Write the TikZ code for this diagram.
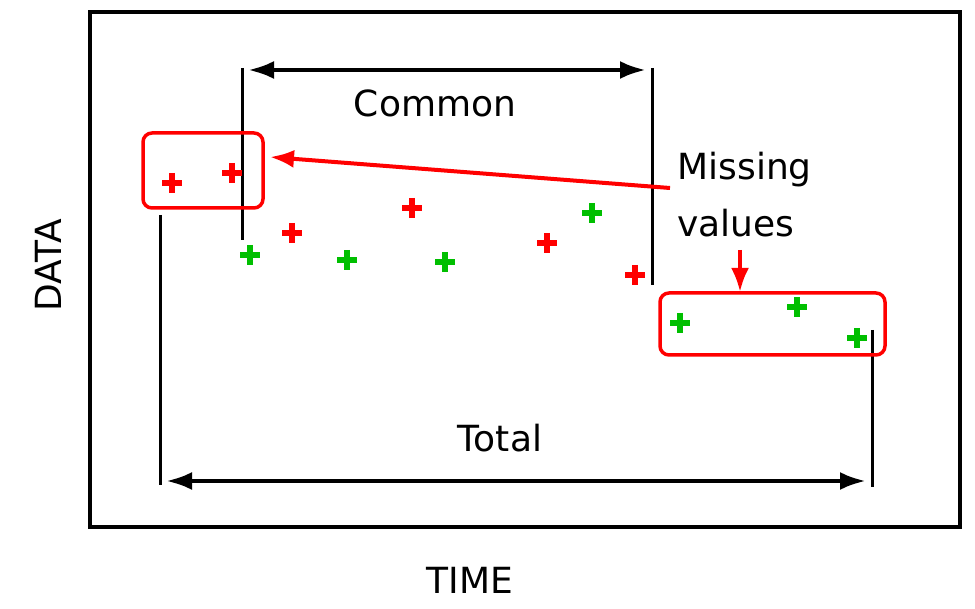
\documentclass[tikz,border=0pt]{standalone}
\usepackage{fontspec}
\setmainfont{DejaVu Sans}
\usetikzlibrary{arrows.meta}
\begin{document}
\begin{tikzpicture}[x=1pt,y=-1pt,
  lbl/.style={font=\fontsize{36}{57}\selectfont},
  bar/.style={line width=3pt,black},
  span/.style={line width=4.5pt,{Latex[length=26pt,width=18pt]}-{Latex[length=26pt,width=18pt]}},
  redbox/.style={draw=red,line width=3.5pt,rounded corners=9pt},
  redarrow/.style={red,line width=4pt,-{Latex[length=24pt,width=18pt]}},
  pt/.style={line width=6pt}]
\useasboundingbox (0,0) rectangle (975,609);
\draw[line width=4pt] (90,12) rectangle (960,527);
% bars
\draw[bar] (242,68) -- (242,240);
\draw[bar] (652,68) -- (652,285);
\draw[bar] (160,215) -- (160,485);
\draw[bar] (872,330) -- (872,487);
% spans
\coordinate (c1) at (248,70); \coordinate (c2) at (646,70);
\coordinate (t1) at (166,481); \coordinate (t2) at (866,481);
\draw[span] (c1) -- (c2);
\draw[span] (t1) -- (t2);
\node[lbl] (common) at (435,103) {Common};
\node[lbl] (total) at (500,438) {Total};
% missing boxes
\draw[redbox] (143,133) rectangle (263,208);
\draw[redbox] (660,293) rectangle (885,355);
\node[lbl,align=left,anchor=west] (miss) at (674,195) {Missing\\values};
\coordinate (m1) at (670,188); \coordinate (m2) at (270,157);
\coordinate (m3) at (740,250); \coordinate (m4) at (740,292);
\draw[redarrow] (m1) -- (m2);
\draw[redarrow] (m3) -- (m4);
% points
\foreach \x/\y in {172/183,232/173,292/233,412/208,547/243,635/275}
  \draw[pt,red] (\x-10,\y) -- (\x+10,\y) (\x,\y-10) -- (\x,\y+10);
\foreach \x/\y in {250/255,347/260,445/262,592/213,680/323,797/307,857/338}
  \draw[pt,green!75!black] (\x-10,\y) -- (\x+10,\y) (\x,\y-10) -- (\x,\y+10);
% axes
\node[lbl,rotate=90] (data) at (48,265) {DATA};
\node[lbl] (time) at (470,580) {TIME};
\end{tikzpicture}
\end{document}
